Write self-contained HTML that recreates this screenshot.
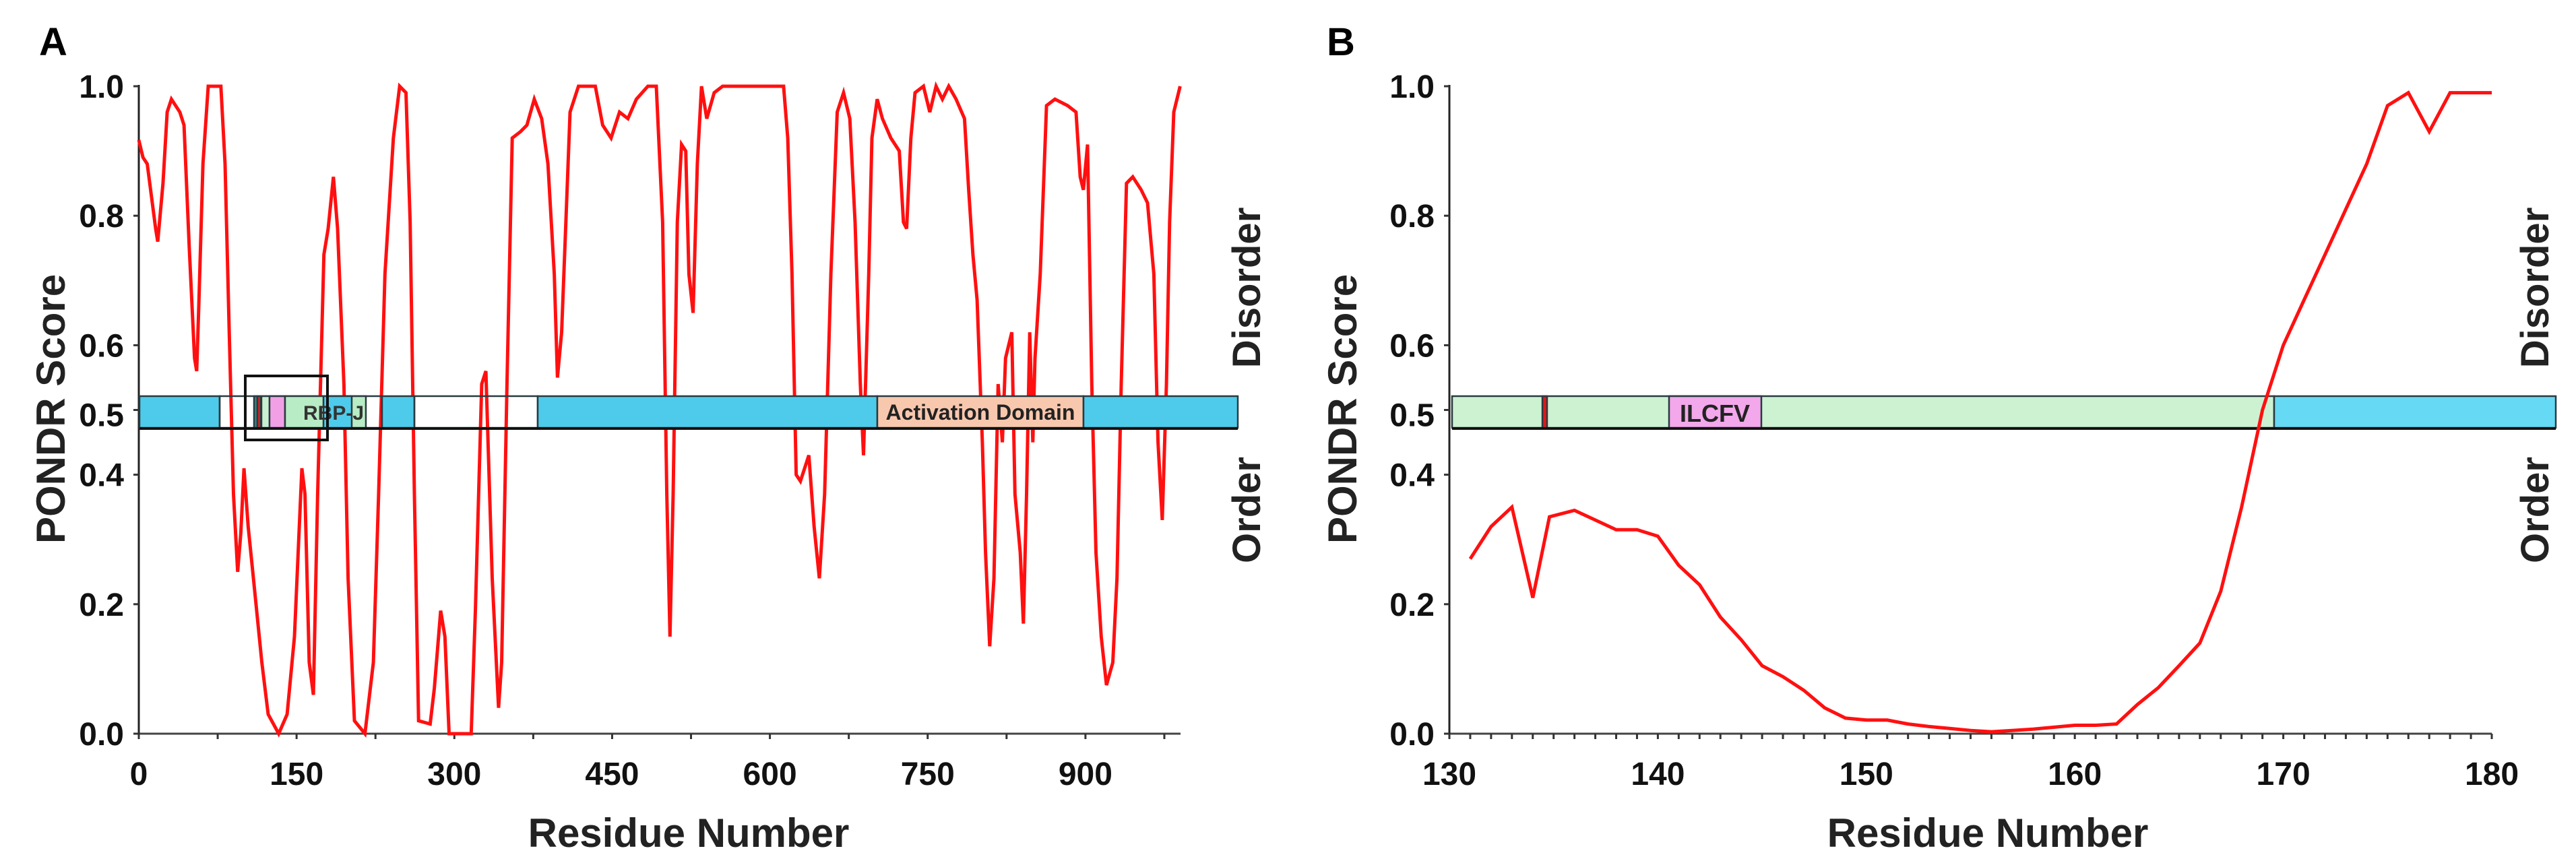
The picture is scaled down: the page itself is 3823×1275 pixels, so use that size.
<!DOCTYPE html>
<html><head><meta charset="utf-8"><style>
html,body{margin:0;padding:0;background:#fff;}
svg{display:block;font-family:"Liberation Sans",Arial,sans-serif;font-weight:bold;}
</style></head><body>
<svg id="chart" width="3823" height="1275" viewBox="0 0 3823 1275" xmlns="http://www.w3.org/2000/svg">
<g id="panelA"></g>
<g id="panelB"></g>
</svg>
<script>
// Panel A data
const resA = [0,4,8,16,18,23,27,31,39,43,48,53,55,57,61,66,78,82,86,90,94,97,100,104,109,117,123,133,141,148,155,158,162,166,170,176,180,185,189,195,199,205,215,223,228,234,242,248,254,258,262,266,277,281,287,291,295,316,320,326,330,332,336,342,345,350,355,363,369,376,383,389,395,398,402,406,410,418,434,441,449,457,465,473,484,492,498,502,505,508,512,516,520,523,527,531,535,540,547,555,613,617,621,625,629,637,642,647,652,658,664,670,676,681,686,689,694,697,702,707,715,723,727,730,734,738,746,752,758,764,770,777,785,789,793,797,802,805,809,813,817,821,824,830,833,838,841,844,847,850,852,857,863,871,883,891,895,898,902,906,910,915,920,926,930,934,939,945,953,959,965,969,973,977,980,984,990];
const valA = [0.917,0.89,0.88,0.78,0.76,0.85,0.96,0.98,0.96,0.94,0.75,0.58,0.56,0.66,0.88,1.0,1.0,0.88,0.62,0.37,0.25,0.31,0.41,0.32,0.24,0.11,0.03,0.0,0.03,0.15,0.41,0.37,0.11,0.06,0.37,0.74,0.78,0.86,0.78,0.54,0.24,0.02,0.0,0.11,0.37,0.71,0.92,1.0,0.99,0.79,0.37,0.02,0.015,0.07,0.19,0.15,0.0,0.0,0.19,0.54,0.56,0.45,0.24,0.04,0.11,0.54,0.92,0.93,0.94,0.98,0.95,0.88,0.71,0.55,0.62,0.79,0.96,1.0,1.0,0.94,0.92,0.96,0.95,0.98,1.0,1.0,0.79,0.37,0.15,0.37,0.79,0.91,0.9,0.71,0.65,0.88,1.0,0.95,0.99,1.0,1.0,0.92,0.71,0.4,0.39,0.43,0.32,0.24,0.37,0.71,0.96,0.99,0.95,0.79,0.54,0.43,0.71,0.92,0.98,0.95,0.92,0.9,0.79,0.78,0.92,0.99,1.0,0.96,1.0,0.98,1.0,0.98,0.95,0.84,0.74,0.67,0.45,0.28,0.135,0.24,0.54,0.45,0.58,0.62,0.37,0.28,0.17,0.37,0.62,0.45,0.58,0.71,0.97,0.98,0.97,0.96,0.86,0.84,0.91,0.54,0.28,0.15,0.075,0.11,0.24,0.54,0.85,0.86,0.84,0.82,0.71,0.45,0.33,0.54,0.79,0.96,1.0];
const xTicksA = [0,150,300,450,600,750,900];
const yTicks = [0.0,0.2,0.4,0.5,0.6,0.8,1.0];
// Panel B data
const resB = [131,132,133,134,134.8,136,137,138,139,140,141,142,143,144,145,146,147,148,149,150,151,152,153,154,155,156,157,158,159,160,161,162,163,164,165,166,167,168,169,170,171,172,173,174,175,176,177,178,179,180];
const valB = [0.27,0.32,0.35,0.21,0.335,0.345,0.33,0.315,0.315,0.305,0.26,0.23,0.18,0.145,0.105,0.088,0.067,0.04,0.024,0.021,0.021,0.015,0.011,0.008,0.005,0.003,0.005,0.007,0.01,0.013,0.013,0.015,0.045,0.071,0.105,0.14,0.22,0.35,0.5,0.6,0.67,0.74,0.81,0.88,0.97,0.99,0.93,0.99,0.99,0.99];
const xTicksB = [130,140,150,160,170,180];

const NS='http://www.w3.org/2000/svg';
function mk(parent,tag,attrs,text){const e=document.createElementNS(NS,tag);for(const k in attrs)e.setAttribute(k,attrs[k]);if(text!==undefined)e.textContent=text;parent.appendChild(e);return e;}
const Y0=1089,Y1=128;
function yS(v){return Y0-(Y0-Y1)*v;}

function panel(g,cfg){
  const xS=r=>cfg.x0+(r-cfg.r0)*cfg.ppr;
  let e=mk(g,'line',{x1:cfg.x0,y1:Y0,x2:cfg.axEnd,y2:Y0,stroke:'#444','stroke-width':3});
  
  e=mk(g,'line',{x1:cfg.x0,y1:Y1-2,x2:cfg.x0,y2:Y0,stroke:'#222','stroke-width':3});
  
  for(let r=cfg.r0;r<=cfg.rMax+1e-9;r+=cfg.minor){
    const t=mk(g,'line',{x1:xS(r),y1:Y0,x2:xS(r),y2:Y0+8,stroke:'#333','stroke-width':3});
    
  }
  cfg.xTicks.forEach(v=>{
    const t=mk(g,'text',{x:xS(v),y:1165,'font-size':48,'text-anchor':'middle',fill:'#111'},String(v));
    
  });
  yTicks.forEach(v=>{
    const tk=mk(g,'line',{x1:cfg.x0-8,y1:yS(v),x2:cfg.x0,y2:yS(v),stroke:'#333','stroke-width':3});
    
    const t=mk(g,'text',{x:cfg.x0-22,y:yS(v)+(v===0.5?24:17),'font-size':48,'text-anchor':'end',fill:'#111'},v.toFixed(1));
    
  });
  const drawLine=()=>{
    const pts=cfg.res.map((r,i)=>xS(r).toFixed(1)+','+yS(cfg.val[i]).toFixed(1)).join(' ');
    const pl=mk(g,'polyline',{points:pts,fill:'none',stroke:'#ff1010','stroke-width':5,'stroke-linejoin':'miter'});
    
  };
  if(cfg.lineUnder) drawLine();
  cfg.segs.forEach(s=>{
    const r=mk(g,'rect',{x:s[0],y:588,width:s[1]-s[0],height:47,fill:s[2],stroke:'#2a3a40','stroke-width':2.5});
    
  });
  const bl=mk(g,'line',{x1:cfg.segs[0][0],y1:636,x2:cfg.barEnd,y2:636,stroke:'#111','stroke-width':4});
  
  (cfg.extra||[]).forEach(f=>f(g));
  if(!cfg.lineUnder) drawLine();
  (cfg.over||[]).forEach(f=>f(g));
  let t=mk(g,'text',{x:cfg.panelX,y:82,'font-size':58,fill:'#000'},cfg.letter);
  
  t=mk(g,'text',{x:cfg.xTitleX,y:1257,'font-size':60,'text-anchor':'middle',fill:'#222'},'Residue Number');
  
  t=mk(g,'text',{x:0,y:0,'font-size':60,'text-anchor':'middle',fill:'#222',transform:`translate(${cfg.yTitleX},607) rotate(-90)`},'PONDR Score');
  
  t=mk(g,'text',{x:0,y:0,'font-size':58,'text-anchor':'middle',fill:'#222',transform:`translate(${cfg.rightX},427) rotate(-90)`},'Disorder');
  
  t=mk(g,'text',{x:0,y:0,'font-size':58,'text-anchor':'middle',fill:'#222',transform:`translate(${cfg.rightX},757) rotate(-90)`},'Order');
  
}

const CY='#4ecbea';
panel(document.getElementById('panelA'),{
  x0:206,r0:0,ppr:1.561,rMax:990,axEnd:1752,minor:75,barEnd:1837,lineUnder:true,
  xTicks:xTicksA,res:resA,val:valA,letter:'A',panelX:58,xTitleX:1022,yTitleX:96,rightX:1870,
  segs:[[207,326,CY,'domain-segment'],[326,567,'none','domain-segment'],[377,382,'#2a8a8a','domain-segment'],[382,387,'#e02020','domain-segment'],[388,400,'#c8f0d0','domain-segment'],[400,423,'#f2a0e6','domain-segment'],[423,543,'#b8ecc4','rbpj-domain'],[480,522,CY,'domain-segment'],[567,615,CY,'domain-segment'],[615,798,'none','domain-segment'],[798,1302,CY,'domain-segment'],[1302,1608,'#f8c8ae','activation-domain'],[1608,1837,CY,'domain-segment']],
  extra:[g=>{let t=mk(g,'text',{x:495,y:623,'font-size':30,'text-anchor':'middle',fill:'#333'},'RBP-J');
    t=mk(g,'text',{x:1455,y:623,'font-size':32,'text-anchor':'middle',fill:'#222'},'Activation Domain');}],
  over:[g=>{const r=mk(g,'rect',{x:364,y:558,width:122,height:95,fill:'none',stroke:'#111','stroke-width':4});}]
});
panel(document.getElementById('panelB'),{
  x0:2151,r0:130,ppr:30.94,rMax:180,axEnd:3698,minor:1,barEnd:3793,
  xTicks:xTicksB,res:resB,val:valB,letter:'B',panelX:1969,xTitleX:2950,yTitleX:2013,rightX:3782,
  segs:[[2155,3375,'#cdf2d2','rbpj-domain'],[2289,2296,'#e01818','motif-mark'],[2477,2614,'#f2a8ea','ilcfv-motif'],[3375,3793,'#66d9f4','domain-segment']],
  extra:[g=>{const t=mk(g,'text',{x:2545,y:626,'font-size':36,'text-anchor':'middle',fill:'#222'},'ILCFV');}]
});
</script>
</body></html>
